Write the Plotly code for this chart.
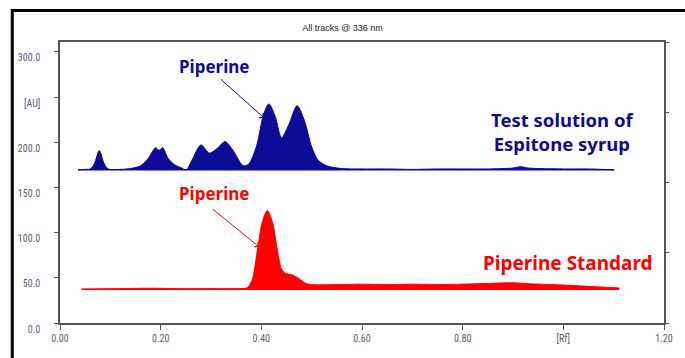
import plotly.graph_objects as go

# ---- data ----
test_rf = [0.036, 0.05, 0.06, 0.068, 0.078, 0.088, 0.096, 0.12, 0.14, 0.16, 0.175, 0.190, 0.197,
           0.204, 0.215, 0.228, 0.240, 0.251, 0.262, 0.280, 0.297, 0.312, 0.328, 0.345, 0.360,
           0.366, 0.375, 0.390, 0.405, 0.415, 0.428, 0.440, 0.455, 0.471, 0.485, 0.500, 0.513,
           0.530, 0.559, 0.60, 0.65, 0.70, 0.75, 0.80, 0.85, 0.90, 0.914, 0.93, 1.00, 1.05, 1.101]
test_au = [169.5, 170, 170.5, 176, 190.8, 176, 170.5, 170, 171, 174, 182, 194, 191,
           194, 182, 175, 172, 169.5, 180, 197, 188, 193, 200.8, 190, 176,
           174, 176, 195, 232, 242.5, 228, 205, 220, 240.5, 225, 195, 180,
           174, 171, 170.5, 170.5, 170, 170.5, 170.5, 170.5, 171.5, 173, 171.5, 170.5, 170.5, 169.5]
test_base = 169.5

std_rf = [0.043, 0.10, 0.18, 0.25, 0.30, 0.36, 0.372, 0.382, 0.392, 0.402, 0.412, 0.422, 0.432,
          0.440, 0.448, 0.462, 0.475, 0.488, 0.50, 0.55, 0.60, 0.65, 0.70, 0.75, 0.80, 0.86,
          0.90, 0.93, 1.00, 1.05, 1.111]
std_au = [37.3, 37.8, 38.5, 37.8, 38, 38, 39, 48, 80, 112, 124.4, 112, 80,
          60, 55, 53, 49, 44, 42.5, 42.5, 43, 42.5, 43, 42.5, 43, 44,
          44.5, 43.5, 42, 40.5, 38.8]
std_base = 37.3

y_tickvals = [0, 50, 100, 150, 200, 250, 300]
y_ticktext = ["0.0", "50.0", "100.0", "150.0", "200.0", "[AU]", "300.0"]
x_tickvals = [0, 0.2, 0.4, 0.6, 0.8, 1.0, 1.2]
x_ticktext = ["0.00", "0.20", "0.40", "0.60", "0.80", "[Rf]", "1.20"]

BLUE = "#0b0b96"
RED = "#ff0000"

fig = go.Figure()

fig.add_trace(go.Scatter(x=[test_rf[0], test_rf[-1]], y=[test_base, test_base], mode="lines",
                         line=dict(color=BLUE, width=1.5), showlegend=False, hoverinfo="skip"))
fig.add_trace(go.Scatter(x=test_rf, y=test_au, mode="lines", fill="tonexty", fillcolor=BLUE,
                         line=dict(color=BLUE, width=1, shape="spline", smoothing=0.8),
                         showlegend=False))
fig.add_trace(go.Scatter(x=[std_rf[0], std_rf[-1]], y=[std_base, std_base], mode="lines",
                         line=dict(color=RED, width=1.5), showlegend=False, hoverinfo="skip"))
fig.add_trace(go.Scatter(x=std_rf, y=std_au, mode="lines", fill="tonexty", fillcolor=RED,
                         line=dict(color=RED, width=1, shape="spline", smoothing=0.8),
                         showlegend=False))
fig.add_trace(go.Scatter(x=[0], y=[0], yaxis="y2", mode="markers", opacity=0,
                         showlegend=False, hoverinfo="skip"))

tick_font = dict(family="Liberation Sans Narrow, Arial Narrow, Roboto Condensed, sans-serif",
                 size=10, color="#5a5a80")
lab_font = "Noto Sans, Open Sans, sans-serif"

fig.update_layout(
    width=685, height=358,
    margin=dict(l=60, r=18, t=42, b=35),
    paper_bgcolor="white", plot_bgcolor="white",
    xaxis=dict(range=[0, 1.2], tickvals=x_tickvals, ticktext=x_ticktext, ticks="outside",
               ticklen=5, tickcolor="#555", tickfont=tick_font, showline=True, linecolor="#555",
               linewidth=1.5, mirror=True, showgrid=False, zeroline=False),
    yaxis=dict(range=[0, 311], tickvals=y_tickvals, ticktext=y_ticktext, ticks="outside",
               ticklen=4, tickcolor="#555", tickfont=tick_font, showline=True, linecolor="#555",
               linewidth=1.5, mirror=True, showgrid=False, zeroline=False,
               ticklabelstandoff=12, ticklabelshift=6),
    yaxis2=dict(range=[0, 4], overlaying="y", side="right", tickvals=[0, 1, 2, 3, 4],
                ticks="outside", ticklen=4, tickcolor="#555", showticklabels=False,
                showgrid=False, zeroline=False, showline=False),
    title=dict(text="All tracks @ 336 nm", x=0.5, xanchor="center", y=1 - 28 / 358,
               yanchor="middle", font=dict(family="Liberation Sans Narrow, Arial Narrow, sans-serif",
                                           size=9, color="#222")),
    shapes=[dict(type="line", xref="paper", yref="paper", x0=-0.079, x1=1.08, y0=1.112, y1=1.112,
                 line=dict(color="black", width=3), layer="above"),
            dict(type="line", xref="paper", yref="paper", x0=-0.079, x1=-0.079, y0=-0.3, y1=1.117,
                 line=dict(color="black", width=3), layer="above")],
    annotations=[
        dict(x=0.305, y=284.4, text="<b>Piperine</b>", showarrow=False,
             font=dict(family=lab_font, size=17, color=BLUE)),
        dict(x=0.4055, y=226.9, ax=0.3166, ay=271.2, axref="x", ayref="y", text="",
             showarrow=True, arrowhead=4, arrowsize=1.2, arrowwidth=1, arrowcolor=BLUE),
        dict(x=0.305, y=142.8, text="<b>Piperine</b>", showarrow=False,
             font=dict(family=lab_font, size=17, color=RED)),
        dict(x=0.3957, y=84.1, ax=0.3008, ay=127.3, axref="x", ayref="y", text="",
             showarrow=True, arrowhead=4, arrowsize=1.2, arrowwidth=1, arrowcolor=RED),
        dict(x=0.998, y=212, text="<b>Test solution of<br>Espitone syrup</b>", showarrow=False,
             font=dict(family=lab_font, size=18.5, color=BLUE)),
        dict(x=1.009, y=66.4, text="<b>Piperine Standard</b>", showarrow=False,
             font=dict(family=lab_font, size=19, color=RED)),
    ],
)

fig.write_html("out.html", config={"displayModeBar": False},
               post_script="document.body.style.margin='0';document.body.style.padding='0';")
